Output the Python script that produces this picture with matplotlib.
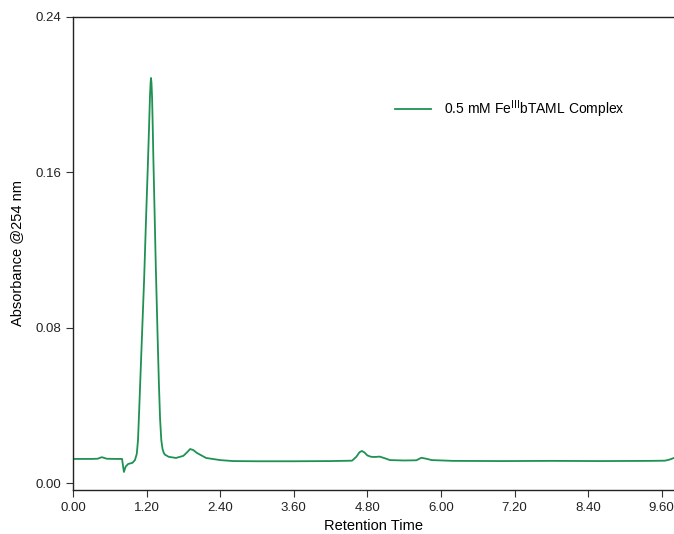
import matplotlib
matplotlib.use("Agg")
import matplotlib.pyplot as plt

plt.rcParams['font.family'] = ['Liberation Sans', 'DejaVu Sans']

# values
time = [0.00, 0.30, 0.40, 0.47, 0.55, 0.70, 0.80, 0.815, 0.83, 0.86, 0.90, 0.97,
        1.01, 1.04, 1.06, 1.08, 1.10, 1.13, 1.16, 1.19, 1.22, 1.24, 1.255, 1.265,
        1.272, 1.28, 1.29, 1.30, 1.31, 1.33, 1.35, 1.38, 1.40, 1.42, 1.44, 1.46,
        1.48, 1.50, 1.56, 1.68, 1.80, 1.86, 1.91, 1.96, 2.02, 2.17, 2.40, 2.61,
        3.00, 3.60, 4.20, 4.55, 4.62, 4.67, 4.71, 4.75, 4.80, 4.86, 4.92, 5.00,
        5.08, 5.17, 5.40, 5.60, 5.68, 5.76, 5.85, 6.20, 7.00, 7.80, 8.60, 9.40,
        9.65, 9.72, 9.80]
absorbance = [0.0124, 0.0124, 0.0125, 0.0133, 0.0125, 0.0124, 0.0124, 0.0090,
              0.0057, 0.0085, 0.0098, 0.0104, 0.0118, 0.0150, 0.0221, 0.038,
              0.055, 0.080, 0.105, 0.135, 0.163, 0.183, 0.199, 0.206, 0.2086,
              0.206, 0.198, 0.184, 0.168, 0.140, 0.112, 0.075, 0.052, 0.033,
              0.022, 0.0175, 0.0155, 0.0146, 0.0135, 0.0129, 0.0140, 0.0158,
              0.0175, 0.0170, 0.0155, 0.0129, 0.0118, 0.0113, 0.0112, 0.0112,
              0.0113, 0.0115, 0.0135, 0.0158, 0.0165, 0.0158, 0.0142, 0.0135,
              0.0134, 0.0136, 0.0128, 0.0118, 0.0116, 0.0117, 0.0130, 0.0125,
              0.0118, 0.0114, 0.0113, 0.0114, 0.0113, 0.0114, 0.0115, 0.0120,
              0.0129]

xticks = [0.00, 1.20, 2.40, 3.60, 4.80, 6.00, 7.20, 8.40, 9.60]
yticks = [0.00, 0.08, 0.16, 0.24]

fig = plt.figure(figsize=(6.74, 5.34), dpi=100)
ax = fig.add_axes([0.1083, 0.0824, 0.8917, 0.8858])

ax.plot(time, absorbance, color='#1f9153', lw=1.3,
        label='0.5 mM Fe$^{\\mathrm{III}}$bTAML Complex')

ax.set_xlim(0, 9.80)
ax.set_ylim(-0.0036, 0.24)
ax.set_xticks(xticks)
ax.set_xticklabels([f"{t:.2f}" for t in xticks])
ax.set_yticks(yticks)
ax.set_yticklabels([f"{v:.2f}" for v in yticks])
ax.tick_params(direction='out', length=5, labelsize=9.5, colors='#333333',
               labelcolor='#222222')
ax.set_xlabel("Retention Time", fontsize=10.5, labelpad=4)
ax.set_ylabel("Absorbance @254 nm", fontsize=10.5, labelpad=8)

ax.spines['right'].set_visible(False)
for s in ax.spines.values():
    s.set_color('#222222')
    s.set_linewidth(1.0)

ax.legend(loc='center left', bbox_to_anchor=(0.515, 0.805), frameon=False,
          fontsize=10, handlelength=2.6, handletextpad=0.9)

fig.savefig("out.png", dpi=100)
